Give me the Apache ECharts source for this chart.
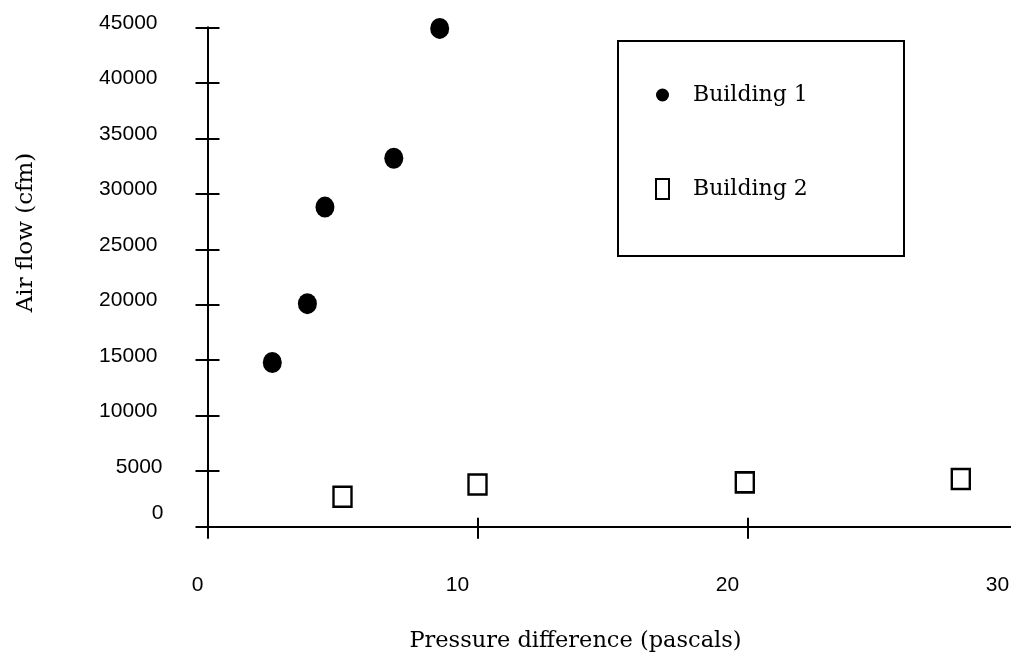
<!DOCTYPE html>
<html>
<head>
<meta charset="utf-8">
<script src="https://cdn.jsdelivr.net/npm/echarts@6/dist/echarts.min.js"></script>
<style>html,body{margin:0;padding:0;background:#fff}#c{width:1011px;height:661px}</style>
</head>
<body>
<div id="c"></div>
<script>
// ---- data ----
const seriesNames = ['Building 1', 'Building 2'];
const building1X = [2.4, 3.7, 4.35, 6.9, 8.6];
const building1Y = [14800, 20100, 28800, 33200, 44900];
const building2X = [5.0, 10.0, 19.9, 27.9];
const building2Y = [2700, 3800, 4000, 4300];
const xTicks = [0, 10, 20, 30];
const yTicks = [0, 5000, 10000, 15000, 20000, 25000, 30000, 35000, 40000, 45000];
const xTitle = 'Pressure difference (pascals)';
const yTitle = 'Air flow (cfm)';

const pairs = (xs, ys) => xs.map((x, i) => [x, ys[i]]);
const xMin = xTicks[0], xMax = xTicks[xTicks.length - 1], xInt = xTicks[1] - xTicks[0];
const yMin = yTicks[0], yMax = yTicks[yTicks.length - 1], yInt = yTicks[1] - yTicks[0];

const SANS = 'Liberation Sans';
const SERIF = 'DejaVu Serif';

const chart = echarts.init(document.getElementById('c'), null, {renderer: 'canvas'});
chart.setOption({
  animation: false,
  backgroundColor: '#fff',
  grid: {left: 207.5, top: 27.3, width: 810, height: 499.4, containLabel: false, outerBoundsMode: 'none'},
  xAxis: [{
    type: 'value', min: xMin, max: xMax, interval: xInt, position: 'bottom',
    splitLine: {show: false},
    axisLine: {show: true, lineStyle: {color: '#000', width: 2}},
    axisTick: {show: true, inside: false, length: 12, lineStyle: {color: '#000', width: 2}},
    axisLabel: {
      margin: 48, color: '#000', fontFamily: SANS, fontSize: 21,
      formatter: v => v === 0 ? '{z|0}' : '{n|' + v + '}',
      rich: {
        z: {fontFamily: SANS, fontSize: 21, color: '#000', padding: [0, 20, 0, 0]},
        n: {fontFamily: SANS, fontSize: 21, color: '#000', padding: [0, 40, 0, 0]}
      }
    },
    name: xTitle, nameLocation: 'middle', nameGap: 103,
    nameTextStyle: {fontFamily: SERIF, fontSize: 22.5, color: '#000', padding: [0, 74, 0, 0]}
  }, {
    type: 'value', min: xMin, max: xMax, interval: xInt, position: 'bottom',
    splitLine: {show: false}, axisLine: {show: false},
    axisTick: {show: true, inside: true, length: 9, lineStyle: {color: '#000', width: 2}},
    axisLabel: {show: false}
  }],
  yAxis: [{
    type: 'value', min: yMin, max: yMax, interval: yInt, position: 'left',
    splitLine: {show: false},
    axisLine: {show: true, lineStyle: {color: '#000', width: 2}},
    axisTick: {show: true, inside: false, length: 12, lineStyle: {color: '#000', width: 2}},
    axisLabel: {
      margin: 43, color: '#000', fontFamily: SANS, fontSize: 21, align: 'right',
      formatter: v => v === 0 ? '{z|0}' : (v === 5000 ? '{f|' + v + '}' : '{n|' + v + '}'),
      rich: {
        z: {fontFamily: SANS, fontSize: 21, color: '#000', padding: [0, 1, 26, 0]},
        f: {fontFamily: SANS, fontSize: 21, color: '#000', padding: [0, 2, 9, 0]},
        n: {fontFamily: SANS, fontSize: 21, color: '#000', padding: [0, 7, 9, 0]}
      }
    },
    name: yTitle, nameLocation: 'middle', nameGap: 170,
    nameTextStyle: {fontFamily: SERIF, fontSize: 23, color: '#000', padding: [0, 0, 0, 89]}
  }, {
    type: 'value', min: yMin, max: yMax, interval: yInt, position: 'left',
    splitLine: {show: false}, axisLine: {show: false},
    axisTick: {show: true, inside: true, length: 12, lineStyle: {color: '#000', width: 2}},
    axisLabel: {show: false}
  }],
  legend: {
    orient: 'vertical', left: 655, top: 84, itemGap: 72, padding: 0,
    itemWidth: 13, itemHeight: 20,
    data: [{name: seriesNames[0], icon: 'circle'}, {name: seriesNames[1], icon: 'rect'}],
    textStyle: {fontFamily: SERIF, fontSize: 22, color: '#000', padding: [0, 0, 0, 19]}
  },
  graphic: [{
    type: 'rect', left: 617, top: 40,
    shape: {width: 286, height: 215},
    style: {fill: 'transparent', stroke: '#000', lineWidth: 2},
    z: -1
  }],
  series: [{
    name: seriesNames[0], type: 'scatter', xAxisIndex: 0, yAxisIndex: 0,
    symbol: 'path://M0,10a9,10 0 1,0 18,0a9,10 0 1,0 -18,0z', symbolKeepAspect: false,
    symbolSize: [19, 21],
    itemStyle: {color: '#000', opacity: 1},
    data: pairs(building1X, building1Y), z: 5
  }, {
    name: seriesNames[1], type: 'scatter', xAxisIndex: 0, yAxisIndex: 0,
    symbol: 'rect', symbolSize: [18, 20],
    itemStyle: {color: '#fff', borderColor: '#000', borderWidth: 2.5, opacity: 1},
    data: pairs(building2X, building2Y), z: 5
  }]
});
</script>
</body>
</html>
